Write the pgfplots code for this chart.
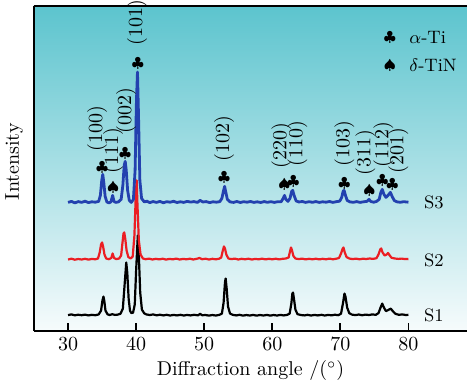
\documentclass[border=0pt]{standalone}
\usepackage{pgfplots}
\pgfplotsset{compat=1.18}
\definecolor{sthree}{RGB}{35,65,175}
\definecolor{stwo}{RGB}{235,30,35}
\definecolor{bgtop}{RGB}{92,196,206}
\definecolor{bgmid}{RGB}{165,220,228}
\definecolor{bgbot}{RGB}{246,251,252}
\begin{document}
\begin{tikzpicture}
\begin{axis}[
  scale only axis, width=216.5pt, height=162pt,
  xmin=25, xmax=88.6, ymin=0, ymax=324,
  axis x line*=bottom, axis y line*=left,
  axis line style={line width=1pt, -},
  xtick={30,40,...,80}, ytick=\empty,
  tick align=inside, major tick length=4pt,
  tick style={line width=0.9pt, black},
  xlabel={Diffraction angle /($^\circ$)},
  ylabel={Intensity},
  ylabel style={at={([xshift=-10pt]rel axis cs:0,0.52)}, anchor=center},
  xlabel style={yshift=2pt},
  clip=false,
  axis background/.style={top color=bgtop, middle color=bgmid, bottom color=bgbot},
  every node/.style={inner sep=0pt},
]
\coordinate (bl) at (rel axis cs:0,0);
\coordinate (tr) at (rel axis cs:1,1);
\draw[line width=1pt] (rel axis cs:0,1) -- (rel axis cs:1,1);

% S1
\addplot[black, line width=1.1pt, line join=round] coordinates {
(30,15.5)(30.5,16.2)(31,15.3)(31.5,15.9)(32,15.4)(32.5,16)(33,15.2)(33.5,15.8)(34,15.4)(34.5,16.2)(34.85,20)(35.05,30)(35.2,34)(35.32,30)(35.5,20)(35.8,16.3)(36.1,15.6)(36.5,16.4)(36.9,15.7)(37.3,16)(37.7,16.8)(38.05,22)(38.3,45)(38.55,68)(38.7,58)(38.9,32)(39.1,20)(39.3,17.5)(39.55,18)(39.8,26)(40.0,60)(40.25,95)(40.4,75)(40.6,38)(40.85,21)(41.2,17.2)(41.5,16.2)(42,15.6)(42.5,16.2)(43,15.3)(43.5,15.9)(44,15.2)(44.5,15.8)(45,15.1)(45.5,15.7)(46,15.2)(46.5,15.8)(47,15.1)(47.5,15.7)(48,15.2)(48.5,15.8)(49.1,15.3)(49.4,16.8)(49.7,15.4)(50.2,15.6)(50.7,15)(51.2,15.6)(51.7,15.1)(52.2,15.7)(52.6,17)(52.85,28)(53.05,48)(53.15,52)(53.3,42)(53.5,24)(53.8,17)(54.2,15.8)(54.7,15.2)(55.2,15.8)(55.7,15)(56.2,15.6)(56.7,15.1)(57.2,15.7)(57.7,15)(58.2,15.6)(58.7,15.1)(59.2,15.7)(59.7,15)(60.2,15.6)(60.7,15.1)(61.2,15.7)(61.7,15.2)(62.2,15.8)(62.55,17)(62.8,27)(62.95,37)(63.05,38)(63.2,31)(63.4,21)(63.7,16.5)(64.2,15.6)(64.7,15.2)(65.2,15.8)(65.7,15.1)(66.2,15.7)(66.7,15.2)(67.2,15.8)(67.7,15.1)(68.2,15.7)(68.7,15.3)(69.2,15.9)(69.7,15.4)(70.1,17)(70.4,28)(70.6,37)(70.75,34)(71.0,23)(71.3,17.5)(71.7,16)(72.2,15.5)(72.7,16.1)(73.2,15.4)(73.7,16)(74.2,15.6)(74.7,16.2)(75.2,15.8)(75.6,17.5)(75.9,23)(76.15,27)(76.4,23)(76.7,19.5)(77.0,20.5)(77.4,22)(77.7,19.5)(78.1,16.8)(78.6,15.8)(79.1,16.2)(79.6,15.6)(80,15.8)
};
% S2
\addplot[stwo, line width=1.1pt, line join=round] coordinates {
(30,71)(30.5,71.8)(31,70.8)(31.5,71.5)(32,71)(32.5,71.7)(33,70.9)(33.5,71.6)(34,71.2)(34.4,72)(34.65,78)(34.85,86)(35.0,88)(35.15,84)(35.35,76)(35.6,72)(36,71.3)(36.35,72.5)(36.55,77)(36.75,72.5)(37.1,71.4)(37.5,72)(37.8,75)(38.0,88)(38.15,97)(38.25,98)(38.4,92)(38.6,80)(38.85,73.5)(39.2,72)(39.5,74)(39.75,95)(39.95,135)(40.08,150)(40.2,125)(40.4,90)(40.65,76)(41,72)(41.4,71.3)(41.9,71.9)(42.4,71)(42.9,71.7)(43.4,71.1)(43.9,71.8)(44.4,70.9)(44.9,71.6)(45.4,71.2)(45.9,71.9)(46.4,71)(46.9,71.6)(47.4,71.2)(47.9,71.8)(48.4,71)(48.9,71.7)(49.3,72.5)(49.7,71.3)(50.2,71.8)(50.7,71)(51.2,71.7)(51.7,71.2)(52.2,71.8)(52.5,73)(52.7,79)(52.9,84)(53.05,82)(53.25,76)(53.55,72)(54,71.4)(54.5,71.9)(55,71)(55.5,71.7)(56,71.2)(56.5,71.8)(57,71)(57.5,71.6)(58,71.2)(58.5,71.9)(59,71.1)(59.5,71.7)(60,71.2)(60.5,71.8)(61,71.1)(61.5,71.7)(62,72)(62.4,73)(62.6,79)(62.75,83)(62.9,80)(63.1,74.5)(63.4,72)(63.9,71.4)(64.4,71.9)(64.9,71.1)(65.4,71.7)(65.9,71.2)(66.4,71.8)(66.9,71.1)(67.4,71.7)(67.9,71.2)(68.4,71.9)(68.9,71.2)(69.4,71.8)(69.8,72.5)(70.1,77)(70.35,82)(70.45,83)(70.65,78)(70.9,73.5)(71.3,72)(71.8,71.4)(72.3,71.9)(72.8,71.2)(73.3,71.8)(73.8,71.5)(74.3,72)(74.8,71.6)(75.3,72.3)(75.6,76)(75.85,81)(76.0,82)(76.2,78)(76.5,75)(76.8,76)(77.0,77.5)(77.2,75.5)(77.5,72.8)(78,72)(78.5,71.6)(79,71.9)(79.5,71.4)(80,71.6)
};
% S3
\addplot[sthree, line width=1.4pt, line join=round] coordinates {
(30,128)(30.5,129)(31,127.5)(31.5,128.8)(32,128)(32.5,129.2)(33,127.8)(33.5,128.6)(34,128.2)(34.5,129)(34.75,135)(34.95,150)(35.1,156)(35.25,148)(35.45,134)(35.7,128.5)(36,127.5)(36.3,128.5)(36.55,135)(36.75,129)(37,128)(37.4,128.5)(37.8,131)(38.05,145)(38.25,165)(38.4,169)(38.55,160)(38.75,140)(39,130)(39.3,128)(39.6,131)(39.85,160)(40.05,230)(40.2,258)(40.35,215)(40.55,150)(40.8,132)(41.2,128.5)(41.6,129.2)(42,127.8)(42.5,128.8)(43,128)(43.5,129)(44,127.6)(44.5,128.7)(45,128.2)(45.5,129.1)(46,127.9)(46.5,128.6)(47,128)(47.5,129)(48,128.3)(48.5,128.8)(49,128)(49.4,130)(49.8,128.4)(50.3,128.8)(50.8,127.8)(51.3,128.6)(51.8,128.2)(52.3,128.8)(52.6,132)(52.85,140)(53.0,144)(53.15,139)(53.4,131)(53.8,128.5)(54.3,128)(54.8,128.9)(55.3,127.9)(55.8,128.7)(56.3,128.2)(56.8,128.9)(57.3,128)(57.8,128.6)(58.3,127.9)(58.8,128.8)(59.3,128.1)(59.8,128.7)(60.3,128)(60.8,128.7)(61.3,128.6)(61.6,132)(61.8,135)(62.0,131)(62.3,129)(62.6,132)(62.85,139)(63.0,140)(63.2,135)(63.5,129.5)(63.9,128.4)(64.4,128.9)(64.9,128)(65.4,128.7)(65.9,128.1)(66.4,128.8)(66.9,128)(67.4,128.6)(67.9,128.2)(68.4,128.9)(68.9,128)(69.4,128.7)(69.9,129.2)(70.2,133)(70.4,139)(70.55,140)(70.75,135)(71.0,130)(71.4,128.5)(71.9,128.1)(72.4,128.8)(72.9,128)(73.4,128.6)(73.9,129)(74.2,131)(74.5,128.8)(74.9,128.2)(75.3,128.9)(75.7,131)(75.95,138)(76.15,141)(76.4,136)(76.7,133)(77.0,135)(77.35,138)(77.6,134)(77.9,130)(78.3,128.6)(78.8,128.1)(79.3,128.7)(80,128.2)
};

% series labels
\node[anchor=west, font=\small] at (axis cs:81.25,15) {S1};
\node[anchor=west, font=\small] at (axis cs:81.25,70) {S2};
\node[anchor=west, font=\small] at (axis cs:81.25,128) {S3};

% peak labels
\node[rotate=90, anchor=west] at (axis cs:34.26,172) {(100)};
\node[rotate=90, anchor=west] at (axis cs:36.62,150) {(111)};
\node[rotate=90, anchor=west] at (axis cs:38.53,190) {(002)};
\node[rotate=90, anchor=west] at (axis cs:40.15,278) {(101)};
\node[rotate=90, anchor=west] at (axis cs:52.94,162) {(102)};
\node[rotate=90, anchor=west] at (axis cs:61.32,155) {(220)};
\node[rotate=90, anchor=west] at (axis cs:63.68,157) {(110)};
\node[rotate=90, anchor=west] at (axis cs:70.59,157) {(103)};
\node[rotate=90, anchor=west] at (axis cs:73.68,148) {(311)};
\node[rotate=90, anchor=west] at (axis cs:76.32,156) {(112)};
\node[rotate=90, anchor=west] at (axis cs:78.53,150) {(201)};

\node[font=\scriptsize] at (axis cs:35.0,163) {$\clubsuit$};
\node[font=\scriptsize] at (axis cs:36.62,143) {$\spadesuit$};
\node[font=\scriptsize] at (axis cs:38.38,177) {$\clubsuit$};
\node[font=\scriptsize] at (axis cs:40.25,267) {$\clubsuit$};
\node[font=\scriptsize] at (axis cs:52.94,153) {$\clubsuit$};
\node[font=\scriptsize] at (axis cs:61.76,146) {$\spadesuit$};
\node[font=\scriptsize] at (axis cs:63.09,149) {$\clubsuit$};
\node[font=\scriptsize] at (axis cs:70.59,147) {$\clubsuit$};
\node[font=\scriptsize] at (axis cs:74.26,140) {$\spadesuit$};
\node[font=\scriptsize] at (axis cs:76.18,150) {$\clubsuit$};
\node[font=\scriptsize] at (axis cs:77.65,146) {$\clubsuit$};

% legend
\node[font=\scriptsize] at (axis cs:77.28,293) {$\clubsuit$};
\node[anchor=west, font=\small] at (axis cs:79.1,293) {$\alpha$-Ti};
\node[font=\scriptsize] at (axis cs:77.28,265) {$\spadesuit$};
\node[anchor=west, font=\small] at (axis cs:79.1,265) {$\delta$-TiN};
\end{axis}
\pgfresetboundingbox
\path ([shift={(-17pt,-29pt)}]bl) rectangle ([shift={(0pt,3pt)}]tr);
\end{tikzpicture}
\end{document}
